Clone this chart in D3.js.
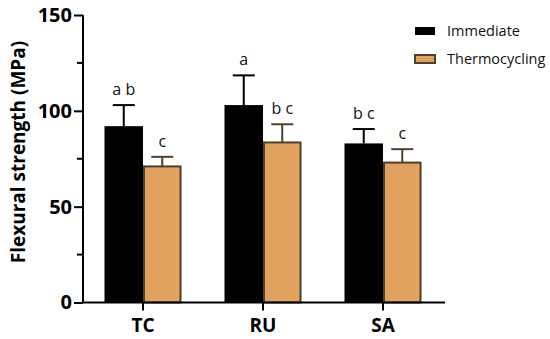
<!DOCTYPE html>
<html>
<head>
<meta charset="utf-8">
<script src="https://cdn.jsdelivr.net/npm/d3@7"></script>
<style>
  body { margin: 0; background: #fff; }
  text { font-family: "Open Sans", "DejaVu Sans", sans-serif; }
</style>
</head>
<body>
<div id="chart"></div>
<script>
// data
var groups = ['TC', 'RU', 'SA'];
var seriesNames = ['Immediate', 'Thermocycling'];
var immediate = [92, 103, 83];
var thermo = [71, 83.5, 73];
var immediateSD = [11, 15.5, 7.5];
var thermoSD = [5, 9.5, 7];
var immediateLetters = ['a b', 'a', 'b c'];
var thermoLetters = ['c', 'b c', 'c'];
var yTicks = [0, 50, 100, 150];

var width = 550, height = 339;
var colors = { Immediate: '#000000', Thermocycling: '#E1A35F' };
var strokes = { Immediate: '#000000', Thermocycling: '#4f3f2c' };

var svg = d3.select('#chart').append('svg')
  .attr('width', width)
  .attr('height', height);

var x = d3.scaleBand().domain(groups).range([83, 443]);
var y = d3.scaleLinear().domain([0, 150]).range([302.5, 15]);

var rows = groups.map(function(g, i) {
  return [
    { group: g, s: 'Immediate', v: immediate[i], sd: immediateSD[i], letter: immediateLetters[i], side: -1 },
    { group: g, s: 'Thermocycling', v: thermo[i], sd: thermoSD[i], letter: thermoLetters[i], side: 0 }
  ];
}).flat();

var barW = 38.5;
function barX(d) { return x(d.group) + x.bandwidth() / 2 + d.side * barW; }

// bars
svg.selectAll('rect.bar').data(rows).enter().append('rect')
  .attr('class', 'bar')
  .attr('x', function(d) { return barX(d) + (d.s == 'Thermocycling' ? 1 : 0); })
  .attr('y', function(d) { return y(d.v); })
  .attr('width', function(d) { return d.s == 'Thermocycling' ? barW - 2 : barW; })
  .attr('height', function(d) { return y(0) - y(d.v); })
  .attr('fill', function(d) { return colors[d.s]; })
  .attr('stroke', function(d) { return strokes[d.s]; })
  .attr('stroke-width', function(d) { return d.s == 'Thermocycling' ? 2 : 0; });

// error bars (upper only)
var err = svg.selectAll('g.err').data(rows).enter().append('g')
  .attr('class', 'err')
  .attr('stroke', function(d) { return strokes[d.s]; })
  .attr('stroke-width', 2);
err.append('line')
  .attr('x1', function(d) { return barX(d) + barW / 2; })
  .attr('x2', function(d) { return barX(d) + barW / 2; })
  .attr('y1', function(d) { return y(d.v); })
  .attr('y2', function(d) { return y(d.v + d.sd); });
err.append('line')
  .attr('x1', function(d) { return barX(d) + barW / 2 - 11; })
  .attr('x2', function(d) { return barX(d) + barW / 2 + 11; })
  .attr('y1', function(d) { return y(d.v + d.sd); })
  .attr('y2', function(d) { return y(d.v + d.sd); });

// significance letters
svg.selectAll('text.letter').data(rows).enter().append('text')
  .attr('class', 'letter')
  .attr('x', function(d) { return barX(d) + barW / 2; })
  .attr('y', function(d) { return y(d.v + d.sd) - 10; })
  .attr('text-anchor', 'middle')
  .attr('font-size', 16)
  .attr('fill', '#111')
  .text(function(d) { return d.letter; });

// y axis
var yAxis = svg.append('g')
  .attr('transform', 'translate(83,0)')
  .call(d3.axisLeft(y).tickValues(yTicks).tickSize(9).tickFormat(d3.format('d')));
yAxis.append('g').selectAll('line').data([25, 75, 125]).enter().append('line')
  .attr('x1', -6).attr('x2', 0)
  .attr('y1', function(d) { return y(d); }).attr('y2', function(d) { return y(d); })
  .attr('stroke', '#000').attr('stroke-width', 2);

// x axis
var xAxis = svg.append('g')
  .attr('transform', 'translate(0,302.5)')
  .call(d3.axisBottom(x).tickSize(8).tickPadding(4));

[yAxis, xAxis].forEach(function(a) {
  a.select('.domain').attr('stroke-width', 2).attr('stroke', '#000');
  a.selectAll('.tick line').attr('stroke-width', 2).attr('stroke', '#000');
  a.selectAll('.tick text')
    .attr('font-family', '"Open Sans", sans-serif')
    .attr('font-weight', 'bold')
    .attr('font-size', 20)
    .attr('fill', '#000');
});
yAxis.select('.domain').attr('d', 'M0,' + y(0) + 'V' + y(150));
xAxis.select('.domain').attr('d', 'M82,0H445');
yAxis.selectAll('.tick text').attr('x', -11);
xAxis.selectAll('.tick text').attr('dy', '0.9em').attr('font-size', 19);

// y axis title
svg.append('text')
  .attr('transform', 'translate(25,152) rotate(-90)')
  .attr('text-anchor', 'middle')
  .attr('font-weight', 'bold')
  .attr('font-size', 19)
  .attr('fill', '#000')
  .text('Flexural strength (MPa)');

// legend
var legend = svg.selectAll('g.legend').data(seriesNames).enter().append('g')
  .attr('class', 'legend')
  .attr('transform', function(d, i) { return 'translate(415,' + (27 + i * 28) + ')'; });
legend.append('rect')
  .attr('width', 20).attr('height', 8)
  .attr('fill', function(d) { return colors[d]; })
  .attr('stroke', function(d) { return strokes[d]; })
  .attr('stroke-width', function(d) { return d == 'Thermocycling' ? 2 : 0; });
legend.append('text')
  .attr('x', 32).attr('y', 4).attr('dy', '0.35em')
  .attr('font-size', 14.5)
  .attr('fill', '#111')
  .text(function(d) { return d; });
</script>
</body>
</html>
